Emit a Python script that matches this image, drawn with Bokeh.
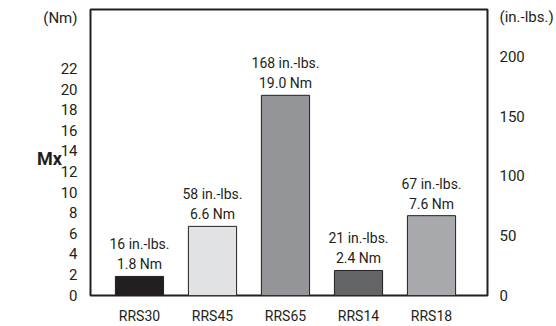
from bokeh.plotting import figure
from bokeh.models import ColumnDataSource, Range1d, LinearAxis, FixedTicker, Label
from bokeh.core.properties import value
from bokeh.embed import file_html
from bokeh.resources import INLINE

# ---- data ----
categories = ["RRS30", "RRS45", "RRS65", "RRS14", "RRS18"]
torque_inlbs = [16, 58, 168, 21, 67]
torque_nm = [1.8, 6.6, 19.0, 2.4, 7.6]
bar_colors = ["#231f20", "#e1e2e4", "#939598", "#636466", "#a7a9ac"]
nm_ticks = [0, 2, 4, 6, 8, 10, 12, 14, 16, 18, 20, 22]
inlbs_ticks = [0, 50, 100, 150, 200]
inlbs_unit_label = "(in.-lbs.)"
nm_unit_label = "(Nm)"
measure_label = "Mx"

FONT = "Roboto"
INK = "#231f20"

# frame geometry (pixels inside the figure)
W, H = 556, 326
FL, FR, FT, FB = 90, 69, 9, 28
frame_w, frame_h = W - FL - FR, H - FT - FB
X0, X1 = -0.671, 4.767
Y0, Y1 = 0, 240
NM_TOP = 27.8

idx = list(range(len(categories)))
src = ColumnDataSource(dict(
    x=idx,
    top=torque_inlbs,
    color=bar_colors,
    line1=[f"{v} in.-lbs." for v in torque_inlbs],
    line2=[f"{v:.1f} Nm" for v in torque_nm],
))

p = figure(width=W, height=H, output_backend="svg", toolbar_location=None,
           x_range=Range1d(X0, X1), y_range=Range1d(Y0, Y1),
           min_border_left=FL, min_border_right=FR, min_border_top=FT, min_border_bottom=FB,
           y_axis_location=None)
p.extra_y_ranges = {"nm": Range1d(0, NM_TOP)}

p.vbar(x="x", top="top", bottom=0, width=0.66, source=src,
       fill_color="color", line_color=INK, line_width=1)

p.text(x="x", y="top", text="line2", source=src, y_offset=-12,
       text_align="center", text_baseline="middle",
       text_font=value(FONT), text_font_size="14px", text_color=INK)
p.text(x="x", y="top", text="line1", source=src, y_offset=-32,
       text_align="center", text_baseline="middle",
       text_font=value(FONT), text_font_size="14px", text_color=INK)

def style_axis(ax, standoff, size):
    ax.axis_line_color = None
    ax.major_tick_line_color = None
    ax.minor_tick_line_color = None
    ax.major_label_standoff = standoff
    ax.major_label_text_font = FONT
    ax.major_label_text_font_size = size
    ax.major_label_text_color = INK

# unit captions sit just under the top edge of the frame, as extra tick labels
nm_unit_pos = 27
left = LinearAxis(y_range_name="nm", ticker=FixedTicker(ticks=nm_ticks + [nm_unit_pos]))
left.major_label_overrides = {nm_unit_pos: nm_unit_label}
style_axis(left, 7, "15px")
p.add_layout(left, "left")

inlbs_unit_pos = 234
right = LinearAxis(ticker=FixedTicker(ticks=inlbs_ticks + [inlbs_unit_pos]))
right.major_label_overrides = {inlbs_unit_pos: inlbs_unit_label}
style_axis(right, 6, "15px")
p.add_layout(right, "right")

xa = p.xaxis[0]
xa.ticker = FixedTicker(ticks=idx)
xa.major_label_overrides = {i: c for i, c in zip(idx, categories)}
style_axis(xa, 6, "14px")

p.xgrid.grid_line_color = None
p.ygrid.grid_line_color = None
p.outline_line_color = INK
p.outline_line_width = 2

# helpers: pixel offset from frame edges -> data coordinates
def xd(px_from_left):
    return X0 + px_from_left * (X1 - X0) / frame_w

def yd(px_from_top):
    return Y1 - px_from_top * (Y1 - Y0) / frame_h

# bold "Mx" caption in the left side panel so it is not clipped to the frame
p.add_layout(Label(x=xd(-41), y=yd(151), text=measure_label,
                   text_align="center", text_baseline="middle",
                   text_font=FONT, text_font_style="bold",
                   text_font_size="18px", text_color=INK), "left")

open("out.html", "w").write(file_html(p, INLINE))
